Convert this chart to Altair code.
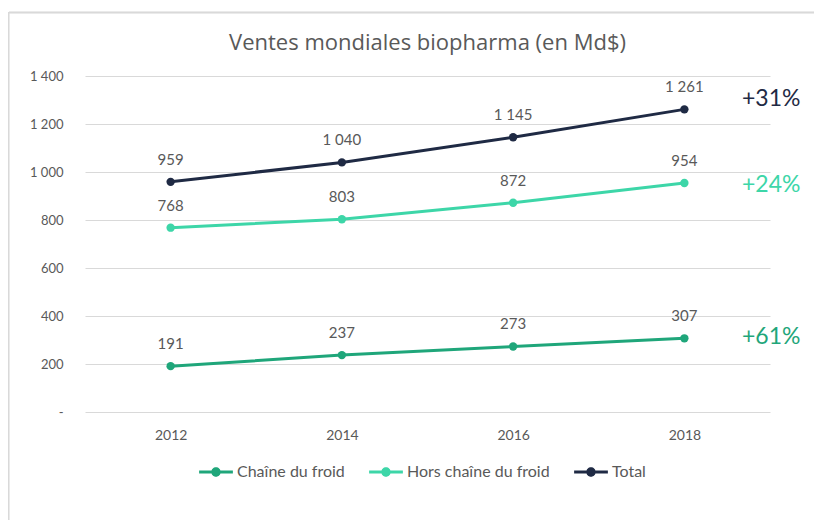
import altair as alt
import pandas as pd

title_text = "Ventes mondiales biopharma (en Md$)"
years = ["2012", "2014", "2016", "2018"]
series = ["Chaîne du froid", "Hors chaîne du froid", "Total"]
chaine = [191, 237, 273, 307]
hors = [768, 803, 872, 954]
total = [959, 1040, 1145, 1261]
growth = ["+61%", "+24%", "+31%"]
colors = ["#1fa67a", "#3dd6a8", "#1f2a44"]

rows = []
for name, vals in zip(series, [chaine, hors, total]):
    for y, v in zip(years, vals):
        rows.append({"year": y, "serie": name, "value": v})
df = pd.DataFrame(rows)

ann = pd.DataFrame({
    "serie": series,
    "value": [chaine[-1], hors[-1], total[-1]],
    "label": growth,
})
title_df = pd.DataFrame({"t": [title_text]})

FONT = "Lato"
GRAY = "#595959"

color_scale = alt.Scale(domain=series, range=colors)
legend = alt.Legend(
    title=None, orient="none", direction="horizontal",
    legendX=114, legendY=379,
    symbolType="M-1,-0.09H1V0.09H-1Z M-0.28,0A0.28,0.28 0 1 1 0.28,0A0.28,0.28 0 1 1 -0.28,0Z",
    symbolSize=1140, symbolStrokeWidth=0, symbolOpacity=1,
    labelFontSize=16, labelColor=GRAY, labelFont=FONT,
    labelOffset=4, columnPadding=24)
color_enc = alt.Color("serie:N", scale=color_scale, sort=series, legend=legend)

x_enc = alt.X("year:O", scale=alt.Scale(type="point", padding=0.5),
              axis=alt.Axis(title=None, labelAngle=0, domain=False, ticks=False,
                            labelPadding=16, labelFontSize=14, labelColor=GRAY,
                            labelFont=FONT))
y_enc = alt.Y("value:Q", scale=alt.Scale(domain=[0, 1400], nice=False),
              axis=alt.Axis(title=None, values=[0, 200, 400, 600, 800, 1000, 1200, 1400],
                            domain=False, ticks=False, labelPadding=22,
                            labelFontSize=13, labelColor=GRAY, labelFont=FONT,
                            gridColor="#d9d9d9", gridWidth=1,
                            labelExpr="datum.value == 0 ? '-' : replace(format(datum.value, ','), ',', ' ')"))

base = alt.Chart(df)

points = base.mark_circle(size=70, opacity=1).encode(
    x=x_enc, y=y_enc, color=color_enc,
)

lines = base.mark_line(strokeWidth=3).encode(
    x=x_enc, y=y_enc, color=color_enc, detail="serie:N",
)

labels = base.transform_calculate(
    txt="replace(format(datum.value, ','), ',', ' ')"
).mark_text(dy=-22, fontSize=15, color=GRAY, font=FONT, baseline="middle").encode(
    x=x_enc, y=y_enc, text="txt:N"
)

ann_dy = {"Chaîne du froid": -1, "Hors chaîne du froid": 2, "Total": -10}
ann_layers = []
for s, c in zip(series, colors):
    ann_layers.append(
        alt.Chart(ann).transform_filter(alt.datum.serie == s).mark_text(
            align="left", baseline="middle", fontSize=23, font=FONT, color=c, dy=ann_dy[s]
        ).encode(x=alt.value(657), y=alt.Y("value:Q", scale=alt.Scale(domain=[0, 1400], nice=False)),
                 text="label:N")
    )

title_mark = alt.Chart(title_df).mark_text(
    fontSize=22, font="Open Sans", color=GRAY, align="center", baseline="middle"
).encode(x=alt.value(342.5), y=alt.value(-33), text="t:N")

border_top = alt.Chart(ann).mark_rule(color="#d9d9d9", strokeWidth=1.5).encode(
    x=alt.value(-76), x2=alt.value(740), y=alt.value(-63.5))
border_left = alt.Chart(ann).mark_rule(color="#d9d9d9", strokeWidth=1.5).encode(
    x=alt.value(-76.5), y=alt.value(-64), y2=alt.value(450))

chart = alt.layer(border_top, border_left, points, lines, labels, title_mark, *ann_layers).properties(
    width=685, height=336,
    autosize="none",
    padding={"left": 77, "top": 68, "right": 44, "bottom": 108},
).configure_view(stroke=None).configure_axis(grid=True).configure_axisX(grid=False)

chart.save("out.html", embed_options={"renderer": "svg", "actions": False})
